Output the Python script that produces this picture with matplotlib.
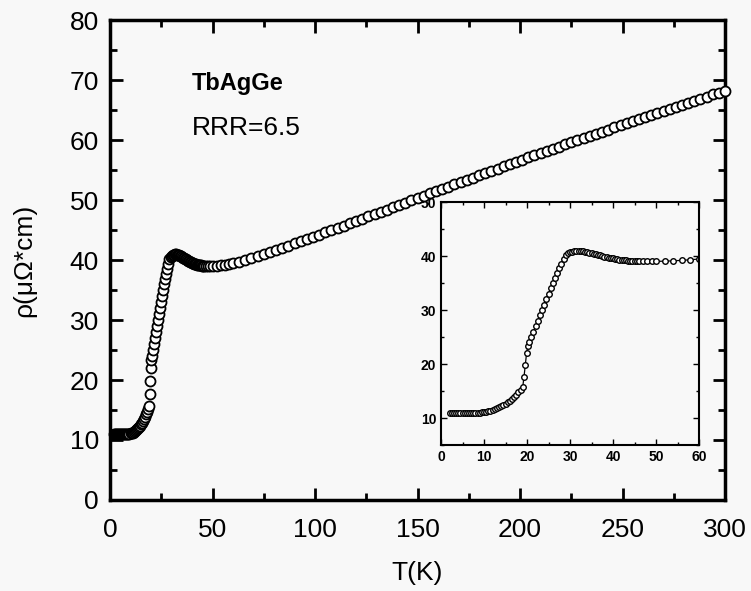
import matplotlib.pyplot as plt
from matplotlib.ticker import MultipleLocator

plt.rcParams['font.family'] = ['Liberation Sans', 'DejaVu Sans']

# low temperature data (K, micro-ohm cm)
t_low = [2, 2.5, 3, 3.5, 4, 4.5, 5, 5.5, 6, 6.5, 7, 7.5, 8, 8.5, 9, 9.5,
         10, 10.5, 11, 11.5, 12, 12.5, 13, 13.5, 14, 14.5, 15, 15.5, 16,
         16.5, 17, 17.5, 18, 18.5, 19, 19.3, 19.6, 19.9, 20.2, 20.5, 21,
         21.5, 22, 22.5, 23, 23.5, 24, 24.5, 25, 25.5, 26, 26.5, 27, 27.5,
         28, 28.5, 29, 29.5, 30, 30.5, 31, 31.5, 32, 32.5, 33, 33.5, 34,
         34.5, 35, 35.5, 36, 36.5, 37, 37.5, 38, 38.5, 39, 39.5, 40, 40.5,
         41, 41.5, 42, 42.5, 43, 43.5, 44, 44.5, 45, 45.5, 46, 47, 48, 49]
rho_low = [11.0, 11.0, 10.95, 10.95, 10.95, 10.95, 10.95, 10.95, 10.95,
           10.95, 10.95, 10.95, 10.95, 11.0, 11.0, 11.05, 11.1, 11.15,
           11.25, 11.35, 11.5, 11.6, 11.8, 11.95, 12.15, 12.4, 12.65, 12.9,
           13.2, 13.55, 13.9, 14.3, 14.75, 15.2, 15.7, 17.6, 19.8, 22.0,
           23.3, 24.0, 25.0, 26.0, 27.0, 28.0, 29.0, 30.0, 31.0, 32.0, 33.0,
           34.0, 35.0, 36.0, 36.9, 37.7, 38.5, 39.4, 40.1, 40.5, 40.7, 40.8,
           40.9, 40.95, 40.95, 40.9, 40.85, 40.8, 40.7, 40.6, 40.5, 40.4,
           40.3, 40.2, 40.1, 40.0, 39.9, 39.8, 39.7, 39.6, 39.55, 39.5,
           39.4, 39.35, 39.3, 39.25, 39.2, 39.15, 39.1, 39.1, 39.05, 39.05,
           39.0, 39.0, 39.0, 39.0]

# high temperature data
t_high = [50, 52, 54, 56, 58, 60, 63, 66, 69, 72, 75, 78, 81, 84, 87, 90,
          93, 96, 99, 102, 105, 108, 111, 114, 117, 120, 123, 126, 129, 132,
          135, 138, 141, 144, 147, 150, 153, 156, 159, 162, 165, 168, 171,
          174, 177, 180, 183, 186, 189, 192, 195, 198, 201, 204, 207, 210,
          213, 216, 219, 222, 225, 228, 231, 234, 237, 240, 243, 246, 249,
          252, 255, 258, 261, 264, 267, 270, 273, 276, 279, 282, 285, 288,
          291, 294, 297, 300]
rho_high = [39.0, 39.05, 39.1, 39.2, 39.3, 39.45, 39.7, 40.0, 40.3, 40.6,
            41.0, 41.35, 41.7, 42.05, 42.4, 42.8, 43.15, 43.5, 43.9, 44.25,
            44.65, 45.0, 45.4, 45.75, 46.15, 46.5, 46.9, 47.3, 47.65, 48.05,
            48.4, 48.8, 49.2, 49.55, 49.95, 50.35, 50.7, 51.1, 51.5, 51.85,
            52.25, 52.6, 53.0, 53.35, 53.75, 54.1, 54.5, 54.85, 55.25, 55.6,
            56.0, 56.35, 56.75, 57.1, 57.45, 57.85, 58.2, 58.55, 58.9, 59.3,
            59.65, 60.0, 60.35, 60.7, 61.05, 61.4, 61.75, 62.1, 62.45, 62.8,
            63.15, 63.5, 63.85, 64.2, 64.5, 64.85, 65.2, 65.55, 65.9, 66.2,
            66.55, 66.9, 67.25, 67.6, 67.9, 68.25]

T = t_low + t_high
rho = rho_low + rho_high
t_in = [t for t in T if t <= 60]
rho_in = [r for t, r in zip(T, rho) if t <= 60]

bg = '#f8f8f8'
fig = plt.figure(figsize=(7.51, 5.91), dpi=100, facecolor=bg)
ax = fig.add_axes([0.1465, 0.154, 0.819, 0.812])
ax.patch.set_visible(False)

ax.plot(T, rho, 'o', ms=7.2, mfc='white', mec='black', mew=1.3,
        clip_on=False, zorder=3)
ax.set_xlim(0, 300)
ax.set_ylim(0, 80)
ax.xaxis.set_major_locator(MultipleLocator(50))
ax.xaxis.set_minor_locator(MultipleLocator(25))
ax.yaxis.set_major_locator(MultipleLocator(10))
ax.yaxis.set_minor_locator(MultipleLocator(5))
ax.tick_params(which='both', direction='in', top=True, right=True,
               width=2, labelsize=19)
ax.tick_params(which='major', length=9, pad=8)
ax.tick_params(axis='x', which='major', pad=13)
ax.tick_params(which='minor', length=5)
for s in ax.spines.values():
    s.set_linewidth(2.5)
ax.set_xlabel('T(K)', fontsize=19, labelpad=14)
ax.set_ylabel('ρ(μΩ*cm)', fontsize=19, labelpad=24)

ax.text(40, 69.5, 'TbAgGe', fontsize=17, fontweight='bold', va='center')
ax.text(40, 62, 'RRR=6.5', fontsize=19, va='center')

# inset, drawn beneath the main curve
axin = fig.add_axes([441/751, 1-445/591, 258/751, 243/591], zorder=-1)
axin.set_facecolor(bg)
axin.plot(t_in, rho_in, '-o', color='black', lw=0.9, ms=4, mfc='white',
          mec='black', mew=1.0)
axin.set_xlim(0, 60)
axin.set_ylim(5, 50)
axin.xaxis.set_major_locator(MultipleLocator(10))
axin.xaxis.set_minor_locator(MultipleLocator(5))
axin.yaxis.set_major_locator(MultipleLocator(10))
axin.yaxis.set_minor_locator(MultipleLocator(5))
axin.tick_params(which='both', direction='in', top=True, right=True,
                 width=1, labelsize=10)
axin.tick_params(which='major', length=4)
axin.tick_params(which='minor', length=2)
for lab in axin.get_xticklabels() + axin.get_yticklabels():
    lab.set_fontweight('bold')
for s in axin.spines.values():
    s.set_linewidth(1.5)

fig.savefig('out.png', dpi=100, facecolor=bg)
